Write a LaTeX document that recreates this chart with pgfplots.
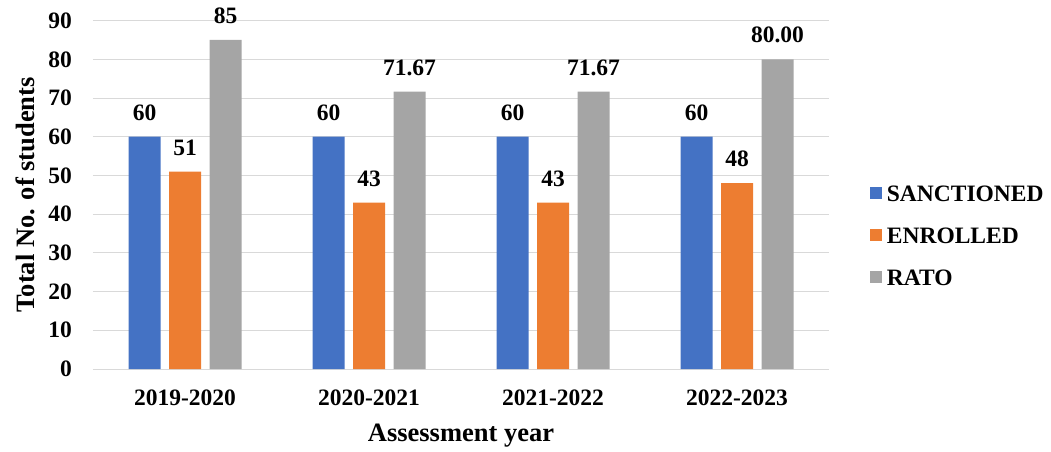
\documentclass[border=0pt]{standalone}
\usepackage{fontspec}
\setmainfont{Liberation Serif}
\usepackage{pgfplots}
\pgfplotsset{compat=1.18}
\usepackage{pgfplotstable}
\usetikzlibrary{calc}

\definecolor{sancblue}{HTML}{4472C4}
\definecolor{enrorange}{HTML}{ED7D31}
\definecolor{ratogray}{HTML}{A5A5A5}
\definecolor{gridgray}{HTML}{D9D9D9}

\newcommand{\lblfont}{\fontsize{23.5}{28}\selectfont\rmfamily\bfseries}
\newcommand{\ttlfont}{\fontsize{26.5}{31}\selectfont\rmfamily\bfseries}

% year index, value, printed label
\pgfplotstableread{
x y lab
0 60 60
1 60 60
2 60 60
3 60 60
}\sanctioned
\pgfplotstableread{
x y lab
0 51 51
1 43 43
2 43 43
3 48 48
}\enrolled
\pgfplotstableread{
x y lab
0 85 85
1 71.67 71.67
2 71.67 71.67
3 80.00 80.00
}\rato

\begin{document}
\begin{tikzpicture}
\begin{axis}[
  scale only axis,
  width=736pt, height=348.4pt,
  xmin=-0.5, xmax=3.5,
  ymin=0, ymax=90,
  ytick={0,10,...,90},
  xtick={0,1,2,3},
  xticklabels={2019-2020,2020-2021,2021-2022,2022-2023},
  major tick length=0pt,
  axis line style={draw=none},
  ymajorgrids,
  grid style={gridgray, line width=1pt},
  /pgf/number format/assume math mode=true,
  ticklabel style={font=\lblfont, inner sep=0pt},
  yticklabel style={anchor=east, xshift=-21pt},
  xticklabel style={anchor=north, yshift=-21pt},
  xlabel={Assessment year},
  ylabel={Total No. of students},
  xlabel style={font=\ttlfont, at={(axis description cs:0.5,0)}, anchor=base, inner sep=0pt, yshift=-72pt},
  ylabel style={font=\ttlfont, at={(axis description cs:0,0.5)}, anchor=base, inner sep=0pt, yshift=58pt},
  clip=false,
  ybar=8.5pt,
  bar width=32pt,
  point meta=explicit symbolic,
  nodes near coords,
  every node near coord/.append style={font=\lblfont, anchor=south, inner sep=0pt, yshift=16pt, black},
  legend image code/.code={\fill[#1] (0pt,-5pt) rectangle (12pt,7pt);},
  legend cell align=left,
  legend style={draw=none, fill=none, font=\lblfont,
    at={(axis description cs:1,1)}, anchor=north west,
    xshift=41pt, yshift=-165pt, inner sep=0pt,
    nodes={inner sep=0pt},
    row sep=24.9pt,
    /tikz/every odd column/.append style={column sep=4.7pt}},
]
\addplot[fill=sancblue, draw=none]
  table[x=x, y=y, meta=lab] {\sanctioned};
\addlegendentry{SANCTIONED}
\addplot[fill=enrorange, draw=none]
  table[x=x, y=y, meta=lab] {\enrolled};
\addlegendentry{ENROLLED}
\addplot[fill=ratogray, draw=none]
  table[x=x, y=y, meta=lab] {\rato};
\addlegendentry{RATO}
\path (rel axis cs:0,0) coordinate (O);
\end{axis}
\pgfresetboundingbox
\path ($(O)+(-93pt,-82pt)$) rectangle ($(O)+(958pt,369pt)$);
\end{tikzpicture}
\end{document}
